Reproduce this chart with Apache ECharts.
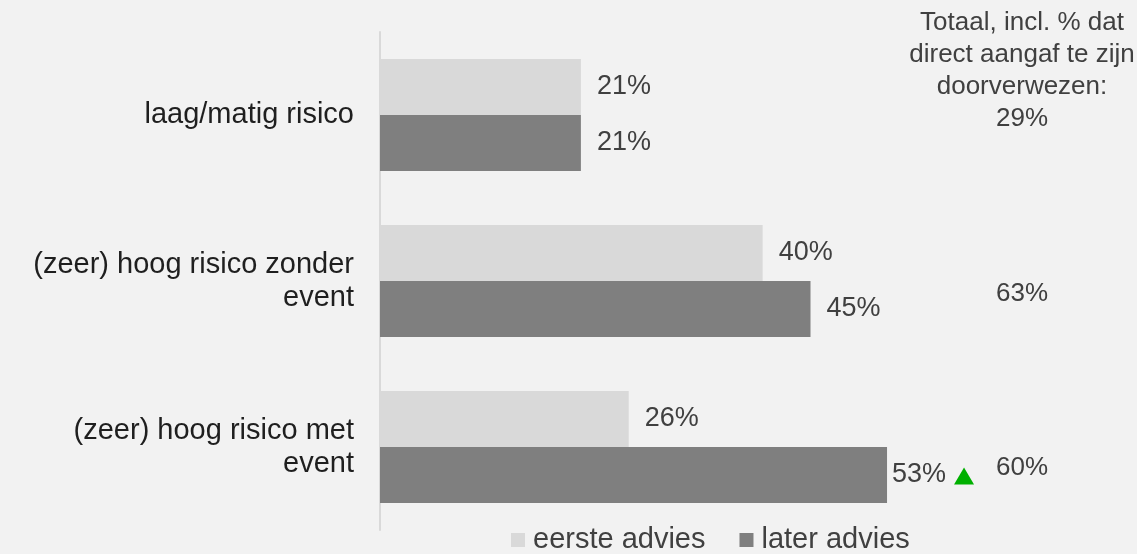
<!DOCTYPE html>
<html>
<head>
<meta charset="utf-8">
<script src="https://cdn.jsdelivr.net/npm/echarts@6/dist/echarts.min.js"></script>
<style>
  html, body { margin: 0; padding: 0; background: #f2f2f2; }
  #chart { width: 1137px; height: 554px; }
</style>
</head>
<body>
<div id="chart"></div>
<script>
// Categories (risk groups), top to bottom
const categories = [
  'laag/matig risico',
  '(zeer) hoog risico zonder\nevent',
  '(zeer) hoog risico met\nevent'
];
const seriesNames = ['eerste advies', 'later advies'];
// Percentage referred, per advice moment
const eersteAdvies = [21, 40, 26];
const laterAdvies = [21, 45, 53];
// Total incl. % that reported direct referral
const totaal = [29, 63, 60];
const totaalKop = 'Totaal, incl. % dat\ndirect aangaf te zijn\ndoorverwezen:';
// Significant increase between first and later advice
const significant = [false, false, true];

const FONT = "'Liberation Sans', Arial, sans-serif";
const LABEL_GAP = 16;          // gap between bar end and its value label
const LABEL_GAP_SIG = 5;       // tighter gap where a marker follows the label
const TOTAL_SHIFT_Y = [-44, 13, 21]; // vertical nudge of the totals column

const valueLabel = {
  show: true,
  position: 'right',
  distance: LABEL_GAP,
  color: '#404040',
  fontFamily: FONT,
  fontSize: 27,
  formatter: p => p.value + '%'
};

const chart = echarts.init(document.getElementById('chart'), null, { renderer: 'canvas' });

chart.setOption({
  backgroundColor: '#f2f2f2',
  animation: false,
  textStyle: { fontFamily: FONT },
  grid: [
    { left: 380, top: 32, width: 574, height: 498 },
    { left: 955, top: 32, width: 134, height: 498 }
  ],
  xAxis: [
    { gridIndex: 0, type: 'value', min: 0, max: 60, show: false },
    { gridIndex: 1, type: 'value', min: 0, max: 2, show: false }
  ],
  yAxis: [
    {
      gridIndex: 0,
      type: 'category',
      data: categories,
      inverse: true,
      axisLine: { show: true, lineStyle: { color: '#d9d9d9', width: 2 } },
      axisTick: { show: false },
      splitLine: { show: false },
      axisLabel: {
        margin: 26,
        color: '#1f1f1f',
        fontFamily: FONT,
        fontSize: 29,
        lineHeight: 33,
        align: 'right'
      }
    },
    {
      gridIndex: 1,
      type: 'category',
      data: categories,
      inverse: true,
      show: false
    }
  ],
  legend: {
    left: 506,
    top: 519,
    itemWidth: 14,
    itemHeight: 14,
    itemGap: 34,
    icon: 'rect',
    data: seriesNames,
    textStyle: {
      color: '#404040',
      fontFamily: FONT,
      fontSize: 29,
      lineHeight: 32,
      padding: [0, 0, 0, 3]
    }
  },
  series: [
    {
      name: seriesNames[0],
      type: 'bar',
      xAxisIndex: 0,
      yAxisIndex: 0,
      barWidth: 56,
      barGap: '0%',
      itemStyle: { color: '#d9d9d9' },
      label: valueLabel,
      data: eersteAdvies
    },
    {
      name: seriesNames[1],
      type: 'bar',
      xAxisIndex: 0,
      yAxisIndex: 0,
      barWidth: 56,
      barGap: '0%',
      itemStyle: { color: '#7f7f7f' },
      label: valueLabel,
      data: laterAdvies.map((v, i) => significant[i]
        ? { value: v, label: { distance: LABEL_GAP_SIG } }
        : v),
      markPoint: {
        symbol: 'triangle',
        symbolSize: [20, 17],
        symbolOffset: [77, 1],
        itemStyle: { color: '#00b000' },
        label: { show: false },
        data: laterAdvies
          .map((v, i) => ({ v, i }))
          .filter(d => significant[d.i])
          .map(d => ({ coord: [d.v, categories[d.i]] }))
      }
    },
    {
      name: 'totaal',
      type: 'scatter',
      xAxisIndex: 1,
      yAxisIndex: 1,
      symbolSize: 0,
      silent: true,
      clip: false,
      itemStyle: { opacity: 1 },
      data: totaal.map((v, i) => ({
        value: [1, i],
        label: { offset: [0, TOTAL_SHIFT_Y[i]] }
      })),
      label: {
        show: true,
        position: 'inside',
        color: '#404040',
        opacity: 1,
        fontFamily: FONT,
        fontSize: 26,
        lineHeight: 32,
        align: 'center',
        formatter: p => (p.dataIndex === 0 ? totaalKop + '\n' : '') + totaal[p.dataIndex] + '%'
      }
    }
  ]
});
</script>
</body>
</html>
